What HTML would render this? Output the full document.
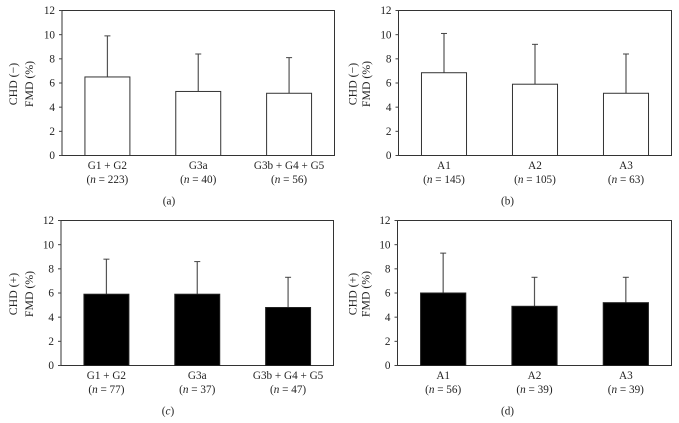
<!DOCTYPE html>
<html>
<head>
<meta charset="utf-8">
<style>
html,body{margin:0;padding:0;background:#fff;width:679px;height:423px;overflow:hidden}
svg{display:block;font-family:"Liberation Serif",serif;font-size:11.2px;fill:#222;filter:blur(0.25px)}
</style>
</head>
<body>
<svg id="figure" width="679" height="423" viewBox="0 0 679 423" xmlns="http://www.w3.org/2000/svg"></svg>
<script>
const yTicks = [0, 2, 4, 6, 8, 10, 12];
const yMax = 12;

const groupCategories = ["G1 + G2", "G3a", "G3b + G4 + G5"];
const albuminCategories = ["A1", "A2", "A3"];

const aCounts = ["223", "40", "56"];
const aMeans = [6.5, 5.3, 5.15];
const aUppers = [9.9, 8.4, 8.1];

const bCounts = ["145", "105", "63"];
const bMeans = [6.85, 5.9, 5.15];
const bUppers = [10.1, 9.2, 8.4];

const cCounts = ["77", "37", "47"];
const cMeans = [5.9, 5.9, 4.8];
const cUppers = [8.8, 8.6, 7.3];

const dCounts = ["56", "39", "39"];
const dMeans = [6.0, 4.9, 5.2];
const dUppers = [9.3, 7.3, 7.3];

const NS = "http://www.w3.org/2000/svg";
const figure = document.getElementById("figure");

function make(parent, tag, attrs, text) {
  const el = document.createElementNS(NS, tag);
  for (const k in attrs) el.setAttribute(k, attrs[k]);
  if (text !== undefined) el.textContent = text;
  parent.appendChild(el);
  return el;
}

function drawPanel(p) {
  const g = make(figure, "g", {});
  
  

  const xScale = i => p.left + (p.right - p.left) * (i + 0.5) / p.categories.length;
  const yScale = v => p.bottom - (p.bottom - p.top) * v / yMax;
  const barW = (p.right - p.left) / p.categories.length * 0.495;

  const frame = make(g, "rect", {x: p.left, y: p.top, width: p.right - p.left, height: p.bottom - p.top, fill: "#fff", stroke: "#333", "stroke-width": 1});
  
  

  yTicks.forEach(t => {
    const tick = make(g, "line", {x1: p.left - 3, x2: p.left, y1: yScale(t), y2: yScale(t), stroke: "#444", "stroke-width": 1});
    
    
    const label = make(g, "text", {x: p.left - 7, y: yScale(t) + 3.6, "text-anchor": "end"}, String(t));
    
    
  });

  p.categories.forEach((c, i) => {
    const cx = xScale(i);
    const err = make(g, "line", {x1: cx, x2: cx, y1: yScale(p.uppers[i]), y2: yScale(p.means[i]), stroke: "#555", "stroke-width": 1.2});
    
    
    const cap = make(g, "line", {x1: cx - 3, x2: cx + 3, y1: yScale(p.uppers[i]), y2: yScale(p.uppers[i]), stroke: "#444", "stroke-width": 1});
    
    
    const bar = make(g, "rect", {x: cx - barW / 2, y: yScale(p.means[i]), width: barW, height: yScale(0) - yScale(p.means[i]), fill: p.fill, stroke: p.fill === "#000" ? "#222" : "#333", "stroke-width": 1});
    
    

    const cat = make(g, "text", {x: cx, y: p.bottom + 13.5, "text-anchor": "middle"}, c);
    
    
    const n = make(g, "text", {x: cx, y: p.bottom + 27.5, "text-anchor": "middle"});
    
    
    n.appendChild(document.createTextNode("("));
    make(n, "tspan", {"font-style": "italic"}, "n");
    n.appendChild(document.createTextNode(" = " + p.counts[i] + ")"));
  });

  const cyMid = (p.top + p.bottom) / 2 + 1;
  const t1 = make(g, "text", {transform: "translate(" + (p.left - p.titleGap1) + " " + cyMid + ") rotate(-90)", "text-anchor": "middle", "font-size": 11.8}, p.title);
  
  
  const t2 = make(g, "text", {transform: "translate(" + (p.left - p.titleGap2) + " " + cyMid + ") rotate(-90)", "text-anchor": "middle", "font-size": 11.8}, "FMD (%)");
  
  

  const caption = make(g, "text", {x: p.captionX, y: p.bottom + 49, "text-anchor": "middle"});
  
  
  caption.appendChild(document.createTextNode("("));
  make(caption, "tspan", p.id === "c" ? {"font-style": "italic"} : {}, p.id);
  caption.appendChild(document.createTextNode(")"));
}

drawPanel({id: "a", left: 62, right: 334.5, top: 10.5, bottom: 155.5, captionX: 169, titleGap1: 45, titleGap2: 29, fill: "#fff", title: "CHD (\u2212)", categories: groupCategories, counts: aCounts, means: aMeans, uppers: aUppers});
drawPanel({id: "b", left: 398.5, right: 671.5, top: 10.5, bottom: 155.5, captionX: 507.5, titleGap1: 42, titleGap2: 28.5, fill: "#fff", title: "CHD (\u2212)", categories: albuminCategories, counts: bCounts, means: bMeans, uppers: bUppers});
drawPanel({id: "c", left: 61, right: 333.5, top: 220.5, bottom: 365.5, captionX: 168, titleGap1: 44, titleGap2: 28, fill: "#000", title: "CHD (+)", categories: groupCategories, counts: cCounts, means: cMeans, uppers: cUppers});
drawPanel({id: "d", left: 397.5, right: 671.5, top: 220.5, bottom: 365.5, captionX: 507.5, titleGap1: 41, titleGap2: 28, fill: "#000", title: "CHD (+)", categories: albuminCategories, counts: dCounts, means: dMeans, uppers: dUppers});
</script>
</body>
</html>
